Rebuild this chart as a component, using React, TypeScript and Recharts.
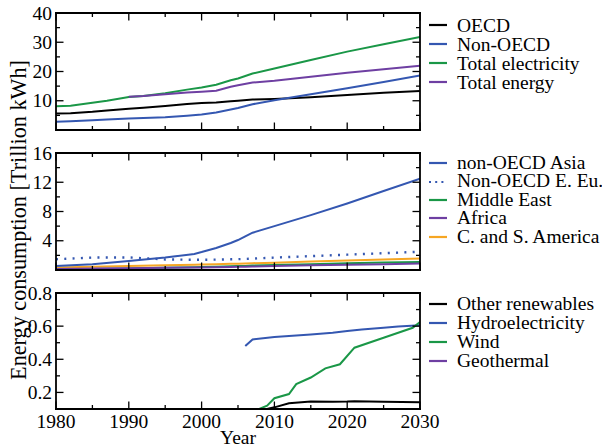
import React from 'react';
import { LineChart, Line, XAxis, YAxis, Legend } from 'recharts';

const FONT = '"Liberation Serif", "Times New Roman", Times, serif';
const BLACK = '#000000';
const BLUE = '#3457b1';
const GREEN = '#1a9747';
const PURPLE = '#6e3fa2';
const ORANGE = '#f6a623';

// ---------- Panel 1: totals ----------
const years1 = [1980, 1982, 1985, 1987, 1990, 1992, 1995, 1998, 2000, 2002, 2004, 2005, 2007, 2010, 2015, 2020, 2025, 2030];
const oecd = [5.6, 5.7, 6.2, 6.7, 7.3, 7.6, 8.2, 8.9, 9.2, 9.4, 9.8, 10.0, 10.4, 10.6, 11.2, 12.0, 12.7, 13.3];
const nonOecd = [2.8, 3.0, 3.3, 3.6, 3.9, 4.1, 4.4, 4.9, 5.3, 6.0, 7.0, 7.5, 8.8, 10.2, 12.2, 14.3, 16.4, 18.6];
const totalElectricity = [8.1, 8.3, 9.3, 10.0, 11.3, 11.6, 12.6, 13.8, 14.5, 15.5, 17.0, 17.6, 19.3, 21.0, 23.9, 26.8, 29.3, 31.8];
const yearsEnergy = [1990, 1992, 1995, 1998, 2000, 2002, 2004, 2005, 2007, 2010, 2015, 2020, 2025, 2030];
const totalEnergy = [11.4, 11.6, 12.2, 12.8, 13.1, 13.4, 14.8, 15.3, 16.2, 16.8, 18.2, 19.6, 20.8, 22.0];

// ---------- Panel 2: regions ----------
const years2 = [1980, 1985, 1990, 1995, 1999, 2000, 2002, 2004, 2005, 2006, 2007, 2010, 2015, 2020, 2025, 2030];
const asia = [0.55, 0.8, 1.22, 1.7, 2.2, 2.45, 3.0, 3.7, 4.1, 4.6, 5.1, 6.0, 7.5, 9.1, 10.8, 12.5];
const eastEurope = [1.47, 1.7, 1.72, 1.44, 1.4, 1.4, 1.42, 1.46, 1.48, 1.52, 1.56, 1.7, 1.9, 2.1, 2.3, 2.5];
const middleEast = [0.08, 0.15, 0.22, 0.3, 0.38, 0.4, 0.44, 0.5, 0.53, 0.56, 0.6, 0.68, 0.8, 0.92, 1.02, 1.1];
const africa = [0.15, 0.2, 0.25, 0.3, 0.34, 0.35, 0.38, 0.42, 0.44, 0.46, 0.48, 0.55, 0.64, 0.72, 0.8, 0.88];
const southAmerica = [0.33, 0.45, 0.55, 0.65, 0.72, 0.74, 0.78, 0.84, 0.87, 0.9, 0.93, 1.0, 1.15, 1.3, 1.45, 1.57];

// ---------- Panel 3: renewables ----------
const yearsOther = [2008, 2010, 2012, 2015, 2018, 2020, 2021, 2025, 2030];
const otherRenewables = [0.09, 0.11, 0.135, 0.145, 0.143, 0.145, 0.147, 0.144, 0.14];
const yearsHydro = [2006, 2007, 2010, 2012, 2015, 2018, 2020, 2022, 2025, 2027, 2030];
const hydro = [0.48, 0.52, 0.535, 0.54, 0.55, 0.56, 0.57, 0.58, 0.59, 0.598, 0.605];
const yearsWind = [2007, 2008, 2009, 2010, 2012, 2013, 2015, 2017, 2019, 2021, 2025, 2029, 2030];
const wind = [0.08, 0.102, 0.12, 0.165, 0.19, 0.25, 0.29, 0.345, 0.37, 0.47, 0.53, 0.59, 0.625];
const yearsGeo = [2008, 2015, 2020, 2030];
const geothermal = [0.06, 0.07, 0.075, 0.08];

// ---------- Axis ticks ----------
const xTicks = [1980, 1985, 1990, 1995, 2000, 2005, 2010, 2015, 2020, 2025, 2030];
const xMajors = [1980, 1990, 2000, 2010, 2020, 2030];
const y1Ticks = [0, 5, 10, 15, 20, 25, 30, 35, 40];
const y1Majors = [10, 20, 30, 40];
const y2Ticks = [0, 2, 4, 6, 8, 10, 12, 14, 16];
const y2Majors = [4, 8, 12, 16];
const y3Ticks = [0.2, 0.3, 0.4, 0.5, 0.6, 0.7, 0.8];
const y3Majors = [0.2, 0.4, 0.6, 0.8];

const toData = (years: number[], vals: number[]) => years.map((year, i) => ({ year, v: vals[i] }));

const AXIS = { stroke: '#000', strokeWidth: 1.8, strokeLinecap: 'square' as const };

type Side = 'bottom' | 'top' | 'left' | 'right';

const makeTick = (side: Side, majors: number[], showLabel: boolean, fmt: (v: number) => string) => (props: any) => {
  const { x, y, payload } = props;
  const v = payload.value as number;
  const major = majors.some((m) => Math.abs(m - v) < 1e-9);
  const len = major ? 7.5 : 4;
  let x2 = x;
  let y2 = y;
  if (side === 'bottom') y2 = y - len;
  if (side === 'top') y2 = y + len;
  if (side === 'left') x2 = x + len;
  if (side === 'right') x2 = x - len;
  let label: React.ReactNode = null;
  if (showLabel && major) {
    if (side === 'bottom') {
      label = (
        <text x={x} y={y + 18.5} textAnchor="middle" fontFamily={FONT} fontSize={19.5} fill="#000">
          {fmt(v)}
        </text>
      );
    } else if (side === 'left') {
      label = (
        <text x={x - 4} y={y + 6.5} textAnchor="end" fontFamily={FONT} fontSize={19.5} fill="#000">
          {fmt(v)}
        </text>
      );
    }
  }
  return (
    <g>
      <line x1={x} y1={y} x2={x2} y2={y2} stroke="#000" strokeWidth={1.3} />
      {label}
    </g>
  );
};

const frame = (
  yTicks: number[],
  yMajors: number[],
  yDomain: [number, number],
  showX: boolean,
  yFmt: (v: number) => string,
) => [
  <XAxis key="xb" xAxisId="b" type="number" dataKey="year" domain={[1980, 2030]} ticks={xTicks} interval={0}
    height={1} tickSize={0} tickMargin={0} axisLine={AXIS} tickLine={false}
    tick={makeTick('bottom', xMajors, showX, (v) => String(v))} allowDataOverflow />,
  <XAxis key="xt" xAxisId="t" orientation="top" type="number" dataKey="year" domain={[1980, 2030]} ticks={xTicks} interval={0}
    height={1} tickSize={0} tickMargin={0} axisLine={AXIS} tickLine={false}
    tick={makeTick('top', xMajors, false, (v) => String(v))} allowDataOverflow />,
  <YAxis key="yl" yAxisId="l" type="number" domain={yDomain} ticks={yTicks} interval={0}
    width={1} tickSize={0} tickMargin={0} axisLine={AXIS} tickLine={false}
    tick={makeTick('left', yMajors, true, yFmt)} allowDataOverflow />,
  <YAxis key="yr" yAxisId="r" orientation="right" type="number" domain={yDomain} ticks={yTicks} interval={0}
    width={1} tickSize={0} tickMargin={0} axisLine={AXIS} tickLine={false}
    tick={makeTick('right', yMajors, false, yFmt)} allowDataOverflow />,
];

type Item = { name: string; color: string; dotted?: boolean };

const legendContent = (items: Item[], rowH: number) => () => (
  <div style={{ width: 175, fontFamily: FONT, fontSize: 19.5, color: '#000', whiteSpace: 'nowrap' }}>
    {items.map((it) => (
      <div key={it.name} style={{ display: 'flex', alignItems: 'center', height: rowH, lineHeight: `${rowH}px` }}>
        <svg width={19} height={4} style={{ display: 'block', flex: 'none' }}>
          <line x1={0} y1={2} x2={18} y2={2} stroke={it.color} strokeWidth={2.2}
            strokeDasharray={it.dotted ? '2 4.2' : undefined} />
        </svg>
        <span style={{ marginLeft: 9 }}>{it.name}</span>
      </div>
    ))}
  </div>
);

const legend1: Item[] = [
  { name: 'OECD', color: BLACK },
  { name: 'Non-OECD', color: BLUE },
  { name: 'Total electricity', color: GREEN },
  { name: 'Total energy', color: PURPLE },
];
const legend2: Item[] = [
  { name: 'non-OECD Asia', color: BLUE },
  { name: 'Non-OECD E. Eu.', color: BLUE, dotted: true },
  { name: 'Middle East', color: GREEN },
  { name: 'Africa', color: PURPLE },
  { name: 'C. and S. America', color: ORANGE },
];
const legend3: Item[] = [
  { name: 'Other renewables', color: BLACK },
  { name: 'Hydroelectricity', color: BLUE },
  { name: 'Wind', color: GREEN },
  { name: 'Geothermal', color: PURPLE },
];

const legendWrap = (top: number) => ({
  left: 429, top, width: 0, height: 0, overflow: 'visible' as const, margin: 0, padding: 0,
});

const W = 602;
const H = 448;
const LEFT = 55;
const RIGHT = 181;

const lineProps = { xAxisId: 'b', yAxisId: 'l', dataKey: 'v', dot: false, isAnimationActive: false, strokeWidth: 2, type: 'linear' as const };

const Layer: React.FC<{ children: React.ReactNode }> = ({ children }) => (
  <div style={{ position: 'absolute', left: 0, top: 0, width: W, height: H }}>{children}</div>
);

export default function App() {
  return (
    <div style={{ position: 'absolute', left: 0, top: 0, width: W, height: H, background: '#fff', overflow: 'hidden' }}>
      <Layer>
        <LineChart width={W} height={H} margin={{ top: 12, bottom: 317, left: LEFT, right: RIGHT }}>
          {frame(y1Ticks, y1Majors, [0, 40], false, (v) => String(v))}
          <Line {...lineProps} data={toData(years1, oecd)} name="OECD" stroke={BLACK} />
          <Line {...lineProps} data={toData(years1, nonOecd)} name="Non-OECD" stroke={BLUE} />
          <Line {...lineProps} data={toData(years1, totalElectricity)} name="Total electricity" stroke={GREEN} />
          <Line {...lineProps} data={toData(yearsEnergy, totalEnergy)} name="Total energy" stroke={PURPLE} />
          <Legend content={legendContent(legend1, 19)} wrapperStyle={legendWrap(15.5)} />
        </LineChart>
      </Layer>
      <Layer>
        <LineChart width={W} height={H} margin={{ top: 152, bottom: 177, left: LEFT, right: RIGHT }}>
          {frame(y2Ticks, y2Majors, [0, 16], false, (v) => String(v))}
          <Line {...lineProps} data={toData(years2, southAmerica)} name="C. and S. America" stroke={ORANGE} />
          <Line {...lineProps} data={toData(years2, middleEast)} name="Middle East" stroke={GREEN} />
          <Line {...lineProps} data={toData(years2, africa)} name="Africa" stroke={PURPLE} />
          <Line {...lineProps} data={toData(years2, eastEurope)} name="Non-OECD E. Eu." stroke={BLUE} strokeWidth={2.4} strokeDasharray="2 6.3" />
          <Line {...lineProps} data={toData(years2, asia)} name="non-OECD Asia" stroke={BLUE} />
          <Legend content={legendContent(legend2, 18.4)} wrapperStyle={legendWrap(154)} />
        </LineChart>
      </Layer>
      <Layer>
        <LineChart width={W} height={H} margin={{ top: 292, bottom: 38, left: LEFT, right: RIGHT }}>
          {frame(y3Ticks, y3Majors, [0.1, 0.8], true, (v) => v.toFixed(1))}
          <Line {...lineProps} data={toData(yearsGeo, geothermal)} name="Geothermal" stroke={PURPLE} />
          <Line {...lineProps} data={toData(yearsOther, otherRenewables)} name="Other renewables" stroke={BLACK} />
          <Line {...lineProps} data={toData(yearsHydro, hydro)} name="Hydroelectricity" stroke={BLUE} />
          <Line {...lineProps} data={toData(yearsWind, wind)} name="Wind" stroke={GREEN} />
          <Legend content={legendContent(legend3, 19)} wrapperStyle={legendWrap(294)} />
        </LineChart>
      </Layer>
      <svg width={W} height={H} style={{ position: 'absolute', left: 0, top: 0, pointerEvents: 'none' }}>
        <text x={0} y={0} transform="translate(26 220) rotate(-90)" textAnchor="middle" fontFamily={FONT} fontSize={22.2} fill="#000">
          Energy consumption [Trillion kWh]
        </text>
        <text x={238} y={444} textAnchor="middle" fontFamily={FONT} fontSize={19.5} fill="#000">
          Year
        </text>
      </svg>
    </div>
  );
}
